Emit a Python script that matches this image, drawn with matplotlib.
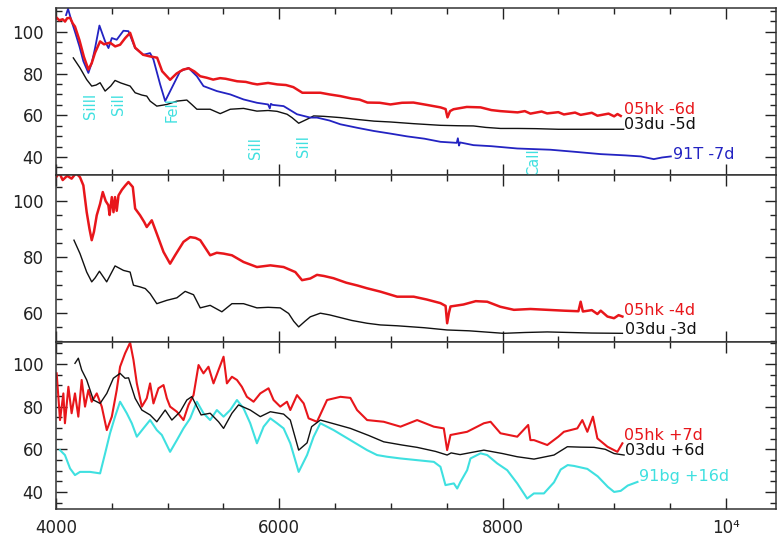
import matplotlib
matplotlib.use('Agg')
import matplotlib.pyplot as plt
from matplotlib.ticker import MultipleLocator

# ---- top panel: 05hk -6d, 03du -5d, 91T -7d ----
top_red_w = [4000, 4030, 4060, 4081, 4100, 4126, 4150, 4170, 4210, 4250, 4290, 4320, 4350, 4395,
             4430, 4484, 4530, 4574, 4620, 4664, 4709, 4780, 4843, 4906, 4951, 5022, 5080, 5139,
             5190, 5240, 5292, 5350, 5408, 5470, 5520, 5580, 5623, 5700, 5760, 5803, 5900, 5982,
             6060, 6126, 6207, 6290, 6368, 6450, 6547, 6650, 6720, 6790, 6900, 6996, 7100, 7202,
             7320, 7444, 7490, 7507, 7530, 7561, 7680, 7803, 7900, 7982, 8135, 8200, 8250, 8350,
             8400, 8500, 8550, 8650, 8700, 8800, 8850, 8950, 9000, 9030, 9059]
top_red_f = [107, 105.5, 106, 104.9, 106.5, 106.7, 104, 102.5, 96, 88, 81.9, 85, 90, 95.4,
             94, 94.8, 93, 93.8, 97, 99.5, 92.4, 89, 88.2, 87.6, 81.1, 77, 80, 81.9,
             82.5, 81, 78.7, 78, 77.1, 77.8, 77.5, 76.8, 76.3, 76, 75.2, 74.8, 75.5, 74.8,
             74.5, 73.5, 70.8, 70.8, 70.8, 70, 69.2, 68, 67.5, 66.1, 66, 65.2, 66, 66.1,
             65, 63.8, 63, 59, 62, 62.9, 64, 63.8, 62.5, 62, 61.4, 62, 60.8, 61.8,
             60.9, 61.5, 60.4, 61.3, 60.2, 61.2, 59.8, 60.8, 59.5, 60.6, 59.7]

top_black_w = [4155, 4215, 4275, 4320, 4360, 4395, 4440, 4490, 4529, 4580, 4619, 4664, 4709, 4769,
               4813, 4843, 4903, 4950, 4993, 5040, 5083, 5172, 5220, 5262, 5381, 5471, 5561, 5680,
               5800, 5900, 5980, 6070, 6114, 6174, 6249, 6308, 6400, 6547, 6700, 6850, 6996, 7200,
               7444, 7600, 7740, 7850, 7982, 8135, 8300, 8500, 8700, 8900, 9085]
top_black_f = [87.5, 82.7, 77.1, 74, 74.5, 75.6, 71.6, 74, 76.7, 75.5, 74.8, 74, 70.8, 69.7,
               69.2, 66.8, 64.4, 64.8, 65.2, 66, 66.8, 67.3, 65, 62.9, 62.9, 60.8, 62.9, 63.3,
               62, 62.3, 61.9, 60.5, 58.9, 56.2, 58.1, 59.7, 59.5, 58.9, 58, 57.2, 56.8, 56,
               55.2, 55, 54.9, 54.2, 53.7, 53.7, 53.6, 53.3, 53.3, 53.3, 53.3]

top_blue_w = [4090, 4108, 4140, 4170, 4210, 4245, 4290, 4320, 4350, 4389, 4440, 4470, 4500, 4544,
              4604, 4649, 4709, 4783, 4843, 4873, 4933, 4978, 5038, 5112, 5187, 5262, 5321, 5441,
              5561, 5680, 5800, 5900, 5915, 5925, 5940, 6039, 6159, 6278, 6338, 6450, 6547, 6700,
              6846, 7000, 7145, 7300, 7444, 7590, 7600, 7610, 7620, 7740, 7900, 8132, 8431, 8650,
              8880, 9100, 9239, 9355, 9430, 9508]
top_blue_f = [108, 111, 105, 100, 93, 85.9, 80.3, 85, 92.2, 103, 95.4, 92.2, 97, 96.2,
              100.5, 100.3, 92.2, 89, 89.8, 86.7, 74.8, 66.8, 73.2, 81.1, 82.7, 78.7, 74, 71.6,
              70, 67.6, 66, 65.2, 63.3, 65.5, 65, 64.4, 60.5, 58.9, 58.9, 57.5, 55.7, 54,
              52.5, 51.2, 49.9, 48.8, 47.3, 46.8, 49, 45.5, 47, 45.7, 45.2, 44.1, 43.5, 42.5,
              41.4, 40.8, 40.3, 39, 39.8, 40.3]

# line identifications in the top panel
line_names = ['SiIII', 'SiII', 'FeII', 'SiII', 'SiII', 'CaII']
line_w = [4305, 4559, 5038, 5785, 6216, 8279]
line_f = [64.4, 65.2, 62.9, 44.3, 45.2, 37.5]

# ---- middle panel: 05hk -4d, 03du -3d ----
mid_red_w = [4000, 4030, 4060, 4100, 4140, 4180, 4215, 4245, 4275, 4300, 4320, 4340, 4365, 4395,
             4419, 4445, 4469, 4480, 4500, 4515, 4529, 4544, 4560, 4590, 4620, 4649, 4688, 4709,
             4753, 4790, 4813, 4858, 4903, 4963, 5022, 5067, 5142, 5202, 5250, 5292, 5381, 5440,
             5501, 5576, 5680, 5800, 5920, 6039, 6144, 6204, 6278, 6338, 6400, 6486, 6600, 6700,
             6787, 6906, 7056, 7204, 7320, 7444, 7490, 7504, 7520, 7534, 7650, 7760, 7863, 7980,
             8102, 8250, 8401, 8550, 8680, 8700, 8720, 8800, 8850, 8880, 8940, 8999, 9040, 9074]
mid_red_f = [108.5, 110, 107.5, 109, 108, 110, 108.5, 105.6, 96, 90, 86, 89, 94.9, 99,
             103.2, 100, 98.5, 95, 101.4, 96, 101.4, 96.5, 102, 104, 105.5, 106.8, 105, 97.3,
             94.9, 92.5, 90.7, 93.1, 88.3, 81.8, 77.6, 80.6, 85.4, 87.1, 86.8, 86, 80.6, 81.5,
             81.2, 80.6, 78.2, 76.4, 77, 76.4, 74.6, 71.7, 72.3, 73.6, 73.2, 72.4, 70.8, 69.8,
             68.8, 67.6, 65.8, 65.8, 64.8, 63.5, 62.5, 56.3, 60, 62.3, 63, 64.2, 64, 62.2,
             61.1, 61.4, 61.1, 60.8, 60.6, 64, 60.5, 61, 59.6, 60.8, 58.7, 58.1, 59.2, 58.7]

mid_black_w = [4161, 4215, 4275, 4320, 4350, 4389, 4454, 4529, 4604, 4664, 4694, 4753, 4800, 4843,
               4903, 4993, 5083, 5157, 5232, 5292, 5381, 5486, 5576, 5680, 5800, 5900, 6009, 6084,
               6130, 6174, 6230, 6278, 6368, 6450, 6550, 6650, 6787, 6906, 7056, 7300, 7504, 7700,
               8009, 8200, 8401, 8600, 8800, 9074]
mid_black_f = [86, 81.2, 74.6, 71.1, 72.5, 74.9, 71.1, 76.8, 75.2, 74.6, 69.9, 69.3, 68.7, 66.9,
               63.3, 64.5, 65.4, 67.7, 66.5, 61.8, 62.7, 60.4, 63.3, 63.3, 61.8, 62, 61.8, 59.8,
               57, 55, 57, 58.6, 59.9, 59.3, 58.3, 57.3, 56.3, 55.7, 55.4, 54.7, 53.9, 53.6,
               52.7, 53, 53.2, 53, 52.8, 52.7]

# ---- bottom panel: 05hk +7d, 03du +6d, 91bg +16d ----
bot_red_w = [4006, 4036, 4066, 4080, 4111, 4140, 4170, 4200, 4230, 4260, 4290, 4320, 4365, 4410,
             4455, 4500, 4544, 4574, 4619, 4664, 4694, 4724, 4769, 4813, 4843, 4873, 4918, 4963,
             4993, 5022, 5083, 5142, 5187, 5232, 5277, 5321, 5366, 5411, 5456, 5501, 5531, 5576,
             5621, 5665, 5710, 5770, 5830, 5904, 5949, 6009, 6069, 6099, 6159, 6219, 6263, 6338,
             6428, 6548, 6637, 6697, 6787, 6936, 7086, 7235, 7385, 7474, 7504, 7534, 7683, 7833,
             7893, 7982, 8132, 8230, 8250, 8282, 8401, 8500, 8550, 8670, 8715, 8760, 8810, 8850,
             8940, 9029, 9074]
bot_red_f = [95.6, 73.7, 86.2, 72.2, 89.3, 76.9, 86.2, 75.3, 92.5, 80, 87.8, 82.3, 86.2, 80,
             69, 75.3, 87.8, 98.7, 105, 110, 101.9, 90.9, 80, 83.9, 90.9, 81.5, 88.6, 90.1,
             83.9, 80, 77.6, 73.7, 80.8, 85.4, 99.5, 95.6, 98.7, 90.9, 97.2, 103.4, 90.9, 94,
             92.5, 89.3, 84.6, 82.3, 86.2, 88.6, 83.1, 80, 82.3, 78.4, 85.4, 81.5, 74.5, 72.9,
             83.1, 84.6, 84.1, 78.4, 73.7, 72.9, 70.6, 73.7, 70.6, 69.8, 59.6, 66.7, 68.2, 72.2,
             72.9, 67.5, 65.9, 71.4, 64.3, 64.3, 62, 65.9, 68.2, 69.8, 73.7, 68.2, 75.3, 65.1,
             61.2, 58.8, 62.8]

bot_black_w = [4170, 4185, 4200, 4230, 4275, 4335, 4395, 4455, 4514, 4574, 4619, 4650, 4709, 4769,
               4843, 4903, 4978, 5038, 5112, 5172, 5217, 5262, 5300, 5381, 5456, 5501, 5576, 5635,
               5740, 5830, 5920, 6039, 6099, 6140, 6174, 6249, 6290, 6368, 6500, 6637, 6800, 6936,
               7100, 7235, 7400, 7504, 7540, 7620, 7833, 8000, 8132, 8282, 8461, 8581, 8700, 8820,
               8920, 8999, 9089]
bot_black_f = [100.3, 101.5, 102.7, 97.2, 92.5, 83.1, 81.5, 86.2, 93.3, 95.6, 93.3, 93.5, 83.9, 78.4,
               76.1, 72.9, 78.4, 73.7, 77.6, 83.1, 84.7, 80, 76.1, 76.9, 72.9, 69.8, 76.9, 80.8,
               78.4, 75.3, 77.6, 76.5, 73.7, 66, 59.6, 63, 70.6, 73.7, 71.8, 69.8, 66.5, 63.5,
               62, 60.9, 59, 57.3, 58.3, 57.5, 59.6, 58, 56.5, 55.4, 57.3, 61.2, 61, 60.9,
               60, 58, 57.3]

bot_cyan_w = [4036, 4080, 4126, 4170, 4215, 4305, 4395, 4440, 4484, 4529, 4574, 4634, 4679, 4724,
              4783, 4843, 4903, 4948, 5022, 5083, 5142, 5202, 5262, 5321, 5381, 5441, 5501, 5561,
              5621, 5680, 5740, 5800, 5860, 5920, 5980, 6039, 6099, 6174, 6249, 6308, 6368, 6487,
              6637, 6787, 6876, 6966, 7086, 7235, 7385, 7444, 7489, 7564, 7594, 7623, 7683, 7713,
              7803, 7863, 7952, 8042, 8132, 8221, 8281, 8371, 8461, 8521, 8584, 8640, 8760, 8853,
              8943, 9000, 9059, 9122, 9209]
bot_cyan_f = [59.6, 57.3, 51, 47.9, 49.4, 49.4, 48.7, 58.1, 67.5, 75.3, 82.3, 76.9, 72.2, 65.9,
              69.8, 73.7, 69, 66.7, 58.8, 64.3, 69.8, 74.5, 82.3, 76.9, 73.7, 78.4, 75.3, 78.4,
              83.1, 79.2, 72.2, 62.8, 70.6, 74.5, 72.2, 69.8, 62.8, 49.4, 57.3, 65.9, 72.2, 69,
              64.3, 59.6, 57.3, 56.5, 55.7, 54.9, 54.1, 51.8, 43.2, 44, 41.6, 44.7, 50.2, 55.7,
              58.1, 57.3, 53.4, 50.2, 44, 36.9, 39.3, 39.3, 44.5, 50.5, 52.6, 52.2, 50.8, 47.3,
              42.4, 40, 40.5, 43, 44.7]

RED = '#e8161b'
BLUE = '#2323c2'
CYAN = '#3fe0e0'
BLACK = '#111111'

fig = plt.figure(figsize=(7.77, 5.39), dpi=100)

left, right = 56 / 777, 776 / 777
panel_top = [8, 175, 342]
panel_h = 167
ylims = [(31.4, 111.4), (49.6, 109.3), (32.0, 110.3)]

axes = []
for i in range(3):
    b = 1 - (panel_top[i] + panel_h) / 539
    ax = fig.add_axes([left, b, right - left, panel_h / 539])
    ax.set_xlim(4000, 10450)
    ax.set_ylim(*ylims[i])
    ax.xaxis.set_major_locator(MultipleLocator(2000))
    ax.xaxis.set_minor_locator(MultipleLocator(500))
    ax.yaxis.set_major_locator(MultipleLocator(20))
    ax.yaxis.set_minor_locator(MultipleLocator(5))
    ax.tick_params(which='both', direction='in', top=True, right=True, labelsize=12,
                   colors='#222222', width=1.0)
    ax.tick_params(which='major', length=8, pad=9)
    ax.tick_params(which='minor', length=4)
    for sp in ax.spines.values():
        sp.set_color('#333333')
        sp.set_linewidth(1.1)
    axes.append(ax)

ax_top, ax_mid, ax_bot = axes
for ax in (ax_top, ax_mid):
    ax.tick_params(labelbottom=False)

ax_bot.set_xticks([4000, 6000, 8000, 10000])
ax_bot.set_xticklabels(['4000', '6000', '8000', '10\u2074'])
ax_bot.tick_params(axis='x', which='major', pad=7)

# top panel
ax_top.plot(top_black_w, top_black_f, color=BLACK, lw=1.0)
ax_top.plot(top_blue_w, top_blue_f, color=BLUE, lw=1.3)
ax_top.plot(top_red_w, top_red_f, color=RED, lw=1.8)
for name, w, f in zip(line_names, line_w, line_f):
    ax_top.text(w, f, name, color=CYAN, rotation=90, fontsize=10.5,
                ha='center', va='center', clip_on=False)
lab = dict(fontsize=11.5, va='center', ha='left', clip_on=False)
ax_top.text(9086, 62.6, '05hk -6d', color=RED, **lab)
ax_top.text(9086, 55.8, '03du -5d', color=BLACK, **lab)
ax_top.text(9525, 41.4, '91T -7d', color=BLUE, **lab)

# middle panel
ax_mid.plot(mid_black_w, mid_black_f, color=BLACK, lw=1.0)
ax_mid.plot(mid_red_w, mid_red_f, color=RED, lw=1.8)
ax_mid.text(9086, 60.8, '05hk -4d', color=RED, **lab)
ax_mid.text(9100, 54.0, '03du -3d', color=BLACK, **lab)

# bottom panel
ax_bot.plot(bot_cyan_w, bot_cyan_f, color=CYAN, lw=1.5)
ax_bot.plot(bot_red_w, bot_red_f, color=RED, lw=1.5)
ax_bot.plot(bot_black_w, bot_black_f, color=BLACK, lw=1.0)
ax_bot.text(9086, 66.4, '05hk +7d', color=RED, **lab)
ax_bot.text(9100, 59.2, '03du +6d', color=BLACK, **lab)
ax_bot.text(9220, 47.4, '91bg +16d', color=CYAN, **lab)

fig.savefig('out.png', dpi=100)
